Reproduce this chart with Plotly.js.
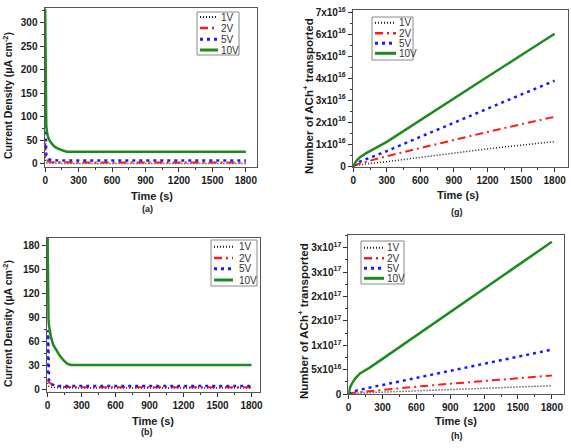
<!DOCTYPE html>
<html>
<head>
<meta charset="utf-8">
<script src="https://cdn.plot.ly/plotly-3.0.1.min.js"></script>
<style>
  html, body { margin: 0; padding: 0; background: #fff; }
  #chart { width: 571px; height: 448px; }
</style>
</head>
<body>
<div id="chart"></div>
<script>
// ---------- data ----------
const seriesNames = ['1V', '2V', '5V', '10V'];

// (a) current density, µA cm^-2
const tA_1V  = [0, 5, 10, 20, 40, 80, 150, 300, 600, 900, 1200, 1500, 1800];
const jA_1V  = [15, 6, 3, 2, 1.5, 1.2, 1, 1, 1, 1, 1, 1, 1];
const tA_2V  = [0, 5, 15, 40, 80, 150, 300, 600, 900, 1200, 1500, 1800];
const jA_2V  = [45, 20, 8, 4, 3.5, 3, 3, 3, 3, 3, 3, 3];
const tA_5V  = [0, 3, 10, 30, 60, 120, 300, 600, 900, 1200, 1500, 1800];
const jA_5V  = [128, 60, 20, 10, 8, 7, 7, 7, 7, 7, 7, 7];
const tA_10V = [0, 2, 5, 10, 20, 36, 60, 80, 105, 130, 164, 195, 300, 600, 900, 1200, 1500, 1800];
const jA_10V = [330, 200, 110, 80, 62, 51, 43, 37.5, 33.5, 30.5, 28, 26, 26, 26, 26, 26, 26, 26];

// (b) current density, µA cm^-2
const tB_1V  = [0, 10, 30, 80, 150, 300, 600, 900, 1200, 1500, 1800];
const jB_1V  = [8, 4, 2.5, 2, 1.5, 1.5, 1.5, 1.5, 1.5, 1.5, 1.5];
const tB_2V  = [0, 10, 40, 80, 150, 300, 600, 900, 1200, 1500, 1800];
const jB_2V  = [12, 9, 6, 4, 3, 2.5, 2.5, 2.5, 2.5, 2.5, 2.5];
const tB_5V  = [0, 5, 12, 25, 60, 100, 300, 600, 900, 1200, 1500, 1800];
const jB_5V  = [20, 74, 12, 7, 5, 4, 4, 4, 4, 4, 4, 4];
const tB_10V = [0, 3, 8, 12, 20, 30, 50, 80, 108, 140, 165, 190, 210, 450, 900, 1200, 1500, 1800];
const jB_10V = [190, 120, 88, 80, 72, 65, 55.6, 48, 42, 36.5, 33, 31, 30.5, 30.5, 30.5, 30.5, 30.5, 30.5];

// (g) number of ACh+ transported
const tG = [0, 30, 60, 120, 300, 600, 900, 1200, 1500, 1800];
const nG_1V  = [0, 0.03e16, 0.06e16, 0.1e16, 0.2e16, 0.4e16, 0.6e16, 0.78e16, 0.95e16, 1.11e16];
const nG_2V  = [0, 0.07e16, 0.12e16, 0.2e16, 0.45e16, 0.82e16, 1.2e16, 1.55e16, 1.9e16, 2.24e16];
const nG_5V  = [0, 0.12e16, 0.2e16, 0.32e16, 0.68e16, 1.33e16, 1.98e16, 2.62e16, 3.25e16, 3.88e16];
const nG_10V = [0, 0.25e16, 0.4e16, 0.6e16, 1.1e16, 2.1e16, 3.08e16, 4.06e16, 5.04e16, 6.02e16];

// (h) number of ACh+ transported
const tH = [0, 10, 30, 60, 100, 180, 300, 600, 900, 1200, 1500, 1800];
const nH_1V  = [0, 0.05e16, 0.1e16, 0.15e16, 0.2e16, 0.27e16, 0.35e16, 0.65e16, 0.95e16, 1.2e16, 1.45e16, 1.7e16];
const nH_2V  = [0, 0.1e16, 0.2e16, 0.3e16, 0.4e16, 0.55e16, 0.75e16, 1.5e16, 2.1e16, 2.7e16, 3.25e16, 3.8e16];
const nH_5V  = [0, 0.2e16, 0.4e16, 0.65e16, 0.9e16, 1.3e16, 1.85e16, 3.3e16, 4.75e16, 6.2e16, 7.65e16, 9.1e16];
const nH_10V = [0, 1.2e16, 2.2e16, 3.2e16, 4.2e16, 5.3e16, 7.2e16, 1.2e17, 1.68e17, 2.16e17, 2.64e17, 3.12e17];

// axis ticks
const timeTicks = [0, 300, 600, 900, 1200, 1500, 1800];
const jTicksA = [0, 50, 100, 150, 200, 250, 300];
const jTicksB = [0, 30, 60, 90, 120, 150, 180];
const nTicksG = [0, 1e16, 2e16, 3e16, 4e16, 5e16, 6e16, 7e16];
const nLabelsG = ['0', '1x10<sup>16</sup>', '2x10<sup>16</sup>', '3x10<sup>16</sup>', '4x10<sup>16</sup>',
                  '5x10<sup>16</sup>', '6x10<sup>16</sup>', '7x10<sup>16</sup>'];
const nTicksH = [0, 5e16, 1e17, 1.5e17, 2e17, 2.5e17, 3e17];
const nLabelsH = ['0', '5x10<sup>16</sup>', '1x10<sup>17</sup>', '2x10<sup>17</sup>', '2x10<sup>17</sup>',
                  '3x10<sup>17</sup>', '3x10<sup>17</sup>'];

// ---------- styles ----------
const W = 571, H = 448;
const FONT = 'Liberation Sans, Arial, sans-serif';
const lineStyles = {
  '1V':  { color: '#1a1a1a', width: 1.5, dash: '1px,2px' },
  '2V':  { color: '#ff1a1a', width: 2,   dash: '8px,4px,2px,4px' },
  '5V':  { color: '#1a1aff', width: 2.5, dash: '3px,4px' },
  '10V': { color: '#1f8a1f', width: 2.5, dash: 'solid' }
};

const px = (x) => x / W;
const py = (y) => 1 - y / H;

function trace(name, x, y, axisIdx) {
  const s = lineStyles[name];
  return {
    type: 'scatter', mode: 'lines', name: name, x: x, y: y,
    xaxis: 'x' + (axisIdx === 1 ? '' : axisIdx),
    yaxis: 'y' + (axisIdx === 1 ? '' : axisIdx),
    line: { color: s.color, width: s.width, dash: s.dash, shape: 'linear' },
    showlegend: false, hoverinfo: 'x+y+name'
  };
}

const data = [
  trace('1V', tA_1V, jA_1V, 1), trace('2V', tA_2V, jA_2V, 1),
  trace('5V', tA_5V, jA_5V, 1), trace('10V', tA_10V, jA_10V, 1),
  trace('1V', tG, nG_1V, 2), trace('2V', tG, nG_2V, 2),
  trace('5V', tG, nG_5V, 2), trace('10V', tG, nG_10V, 2),
  trace('1V', tB_1V, jB_1V, 3), trace('2V', tB_2V, jB_2V, 3),
  trace('5V', tB_5V, jB_5V, 3), trace('10V', tB_10V, jB_10V, 3),
  trace('1V', tH, nH_1V, 4), trace('2V', tH, nH_2V, 4),
  trace('5V', tH, nH_5V, 4), trace('10V', tH, nH_10V, 4)
];

const tickFont = { family: FONT, size: 10, color: '#1a1a1a', weight: 'bold' };

function xAxis(x0, x1, range, anchor, minorStep) {
  return {
    domain: [px(x0), px(x1)], anchor: anchor, range: range,
    tickmode: 'array', tickvals: timeTicks, ticks: 'outside', ticklen: 4, tickwidth: 1,
    tickcolor: '#333', tickfont: tickFont, showgrid: false, zeroline: false,
    showline: true, linecolor: '#555', linewidth: 1, mirror: true,
    minor: { dtick: minorStep, tick0: 0, ticks: 'outside', ticklen: 2, tickcolor: '#333', showgrid: false }
  };
}
function yAxis(y0, y1, range, anchor, vals, labels, minorStep) {
  const ax = {
    domain: [py(y1), py(y0)], anchor: anchor, range: range,
    tickmode: 'array', tickvals: vals, ticks: 'outside', ticklen: 4, tickwidth: 1,
    tickcolor: '#333', tickfont: tickFont, showgrid: false, zeroline: false,
    showline: true, linecolor: '#555', linewidth: 1, mirror: true,
    minor: { dtick: minorStep, tick0: 0, ticks: 'outside', ticklen: 2, tickcolor: '#333', showgrid: false }
  };
  if (labels) ax.ticktext = labels;
  return ax;
}

// ---------- titles & legends ----------
const annotations = [];
const shapes = [];

function text(t, x, y, size, opts) {
  annotations.push(Object.assign({
    text: t, x: px(x), y: py(y), xref: 'paper', yref: 'paper',
    xanchor: 'center', yanchor: 'middle', showarrow: false,
    font: { family: FONT, size: size, color: '#1a1a1a', weight: 'bold' }
  }, opts || {}));
}

function legendBox(x0, x1, y0, y1, rows, sx0, sx1, tx) {
  shapes.push({ type: 'rect', xref: 'paper', yref: 'paper',
    x0: px(x0), x1: px(x1), y0: py(y1), y1: py(y0),
    line: { color: '#888', width: 1 }, fillcolor: '#fff', layer: 'above' });
  seriesNames.forEach((n, i) => {
    const s = lineStyles[n];
    shapes.push({ type: 'line', xref: 'paper', yref: 'paper',
      x0: px(sx0), x1: px(sx1), y0: py(rows[i]), y1: py(rows[i]),
      line: { color: s.color, width: s.width + 0.5, dash: s.dash }, layer: 'above' });
    annotations.push({ text: n, x: px(tx), y: py(rows[i]), xref: 'paper', yref: 'paper',
      xanchor: 'left', yanchor: 'middle', showarrow: false,
      font: { family: FONT, size: 10, color: '#333' } });
  });
}

// panel (a)
text('Current Density (μA cm<sup>-2</sup>)', 7, 96, 10.5, { textangle: -90 });
text('Time (s)', 152, 196, 11);
text('(a)', 147, 209, 9);
legendBox(197, 239, 12, 55, [17, 28, 39.3, 50], 200, 218, 219);

// panel (g)
text('Number of ACh<sup>+</sup> transported', 308, 96, 11.5, { textangle: -90 });
text('Time (s)', 458, 195, 11);
text('(g)', 457, 212, 9);
legendBox(372, 413, 17, 60, [22.7, 33.3, 43.3, 53.3], 375, 396, 397);

// panel (b)
text('Current Density (μA cm<sup>-2</sup>)', 7, 324, 10.5, { textangle: -90 });
text('Time (s)', 153, 421, 11);
text('(b)', 147, 432, 9);
legendBox(211, 257, 240, 286, [246.7, 258, 268.7, 280], 214, 233, 237);

// panel (h)
text('Number of ACh<sup>+</sup> transported', 303, 321, 11.5, { textangle: -90 });
text('Time (s)', 456, 421, 11);
text('(h)', 457, 436, 9);
legendBox(361, 404, 241, 284, [247.7, 258.3, 268.3, 278.3], 364, 384, 385);

const layout = {
  width: W, height: H, margin: { l: 0, r: 0, t: 0, b: 0 },
  paper_bgcolor: '#fff', plot_bgcolor: '#fff', showlegend: false,
  font: { family: FONT },
  xaxis:  xAxis(44.5, 257, [-6, 1900], 'y', 150),
  yaxis:  yAxis(8, 166.7, [-6, 331], 'x', jTicksA, null, 25),
  xaxis2: xAxis(352.7, 567.5, [-5, 1915], 'y2', 150),
  yaxis2: yAxis(10, 166.7, [-0.03e16, 7.1e16], 'x2', nTicksG, nLabelsG, 0.5e16),
  xaxis3: xAxis(46.7, 260, [-8, 1875], 'y3', 150),
  yaxis3: yAxis(237.7, 391.7, [-3, 190], 'x3', jTicksB, null, 15),
  xaxis4: xAxis(348.3, 563.7, [-3, 1905], 'y4', 150),
  yaxis4: yAxis(235, 394, [0, 3.26e17], 'x4', nTicksH, nLabelsH, 2.5e16),
  annotations: annotations, shapes: shapes
};

Plotly.newPlot('chart', data, layout, { staticPlot: true, displayModeBar: false });
</script>
</body>
</html>
